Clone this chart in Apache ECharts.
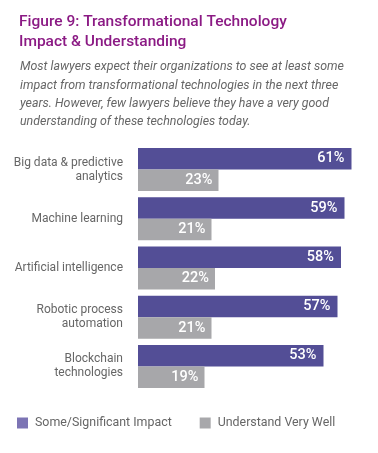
<!DOCTYPE html>
<html>
<head>
<meta charset="utf-8">
<script src="https://cdn.jsdelivr.net/npm/echarts@6/dist/echarts.min.js"></script>
<style>
  html, body { margin: 0; padding: 0; background: #fff; }
  #chart { width: 378px; height: 453px; }
</style>
</head>
<body>
<div id="chart"></div>
<script>
const categories = [
  'Big data & predictive\nanalytics',
  'Machine learning',
  'Artificial intelligence',
  'Robotic process\nautomation',
  'Blockchain\ntechnologies'
]
const impact = [61, 59, 58, 57, 53]
const understand = [23, 21, 22, 21, 19]
const seriesNames = ['Some/Significant Impact', 'Understand Very Well']

const FONT = 'Roboto, "Open Sans", sans-serif'

const chart = echarts.init(document.getElementById('chart'))

chart.setOption({
  backgroundColor: '#fff',
  animation: false,
  title: [
    {
      text: 'Figure 9: Transformational Technology\nImpact & Understanding',
      left: 14,
      top: 7,
      textStyle: { color: '#8b1a84', fontFamily: FONT, fontSize: 15.5, fontWeight: 500, lineHeight: 20 }
    },
    {
      text: 'Most lawyers expect their organizations to see at least some\nimpact from transformational technologies in the next three\nyears. However, few lawyers believe they have a very good\nunderstanding of these technologies today.',
      left: 15,
      top: 53,
      textStyle: { color: '#666', fontFamily: FONT, fontSize: 12.4, fontStyle: 'italic', fontWeight: 400, lineHeight: 18.3 }
    }
  ],
  legend: {
    left: 12,
    top: 412,
    itemWidth: 11,
    itemHeight: 11,
    itemGap: 28,
    icon: 'rect',
    textStyle: { color: '#666', fontFamily: FONT, fontSize: 12.4, padding: [0, 0, 0, 2] },
    data: [
      { name: seriesNames[0], itemStyle: { color: '#7c74b4' } },
      { name: seriesNames[1], itemStyle: { color: '#a8a8ab' } }
    ]
  },
  grid: { left: 138, right: 9, top: 145, height: 246, containLabel: false },
  xAxis: {
    type: 'value',
    min: 0,
    max: 66,
    show: false
  },
  yAxis: {
    type: 'category',
    inverse: true,
    data: categories,
    axisLine: { show: false },
    axisTick: { show: false },
    axisLabel: {
      color: '#666',
      fontFamily: FONT,
      fontSize: 12,
      lineHeight: 14,
      margin: 15,
      align: 'right'
    }
  },
  series: [
    {
      name: seriesNames[0],
      type: 'bar',
      data: impact,
      barWidth: 21.5,
      barGap: '0%',
      itemStyle: { color: '#534e96' },
      label: {
        show: true,
        position: 'insideRight',
        distance: 7,
        formatter: '{c}%',
        color: '#fff',
        fontFamily: FONT,
        fontSize: 14.5,
        fontWeight: 500
      }
    },
    {
      name: seriesNames[1],
      type: 'bar',
      data: understand,
      barWidth: 21.5,
      barGap: '0%',
      itemStyle: { color: '#a7a7aa' },
      label: {
        show: true,
        position: 'insideRight',
        distance: 6,
        formatter: '{c}%',
        color: '#fff',
        fontFamily: FONT,
        fontSize: 14.5,
        fontWeight: 500
      }
    }
  ]
})
</script>
</body>
</html>
